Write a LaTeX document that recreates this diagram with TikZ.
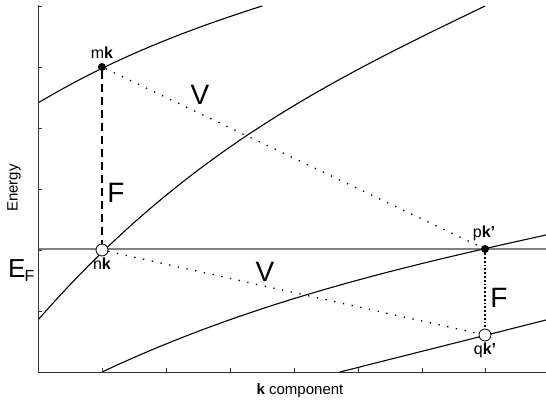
\documentclass[tikz,border=0pt]{standalone}
\usepackage{fontspec}
\setmainfont{Liberation Sans}
\begin{document}
\begin{tikzpicture}[x=1pt,y=-1pt,
  band/.style={line width=1.1pt,black},
  axisline/.style={line width=1pt,black!80},
  fermi/.style={line width=1.1pt,black!50},
  full/.style={circle,fill=black,inner sep=0pt,minimum size=8pt},
  empty/.style={circle,draw=black,fill=white,line width=0.8pt,inner sep=0pt,minimum size=12pt},
  vdots/.style={line width=1.3pt,dash pattern=on 1.3pt off 7.6pt},
  fdots/.style={line width=1.1pt,dash pattern=on 1.8pt off 2pt},
  fdash/.style={line width=1.6pt,dash pattern=on 8pt off 5pt},
  small/.style={font=\fontsize{16}{18}\selectfont,inner sep=1pt},
  big/.style={font=\fontsize{28}{30}\selectfont,inner sep=0pt}]
\useasboundingbox (0,0) rectangle (546,407);
% fermi level
\draw[fermi] (38,249) -- (546,249);
% bands
\begin{scope}
\clip (38,5) rectangle (546,372);
\draw[band] (38,103) .. controls (112.7,58.2) and (187.3,29.9) .. (262,6);
\draw[band] (38,320) .. controls (187,149) and (336,78) .. (485,6);
\draw[band] (102,372) .. controls (250,302.4) and (398,267.6) .. (546,235);
\draw[band] (340,372) .. controls (409,354.5) and (477,337.5) .. (546,320);
\end{scope}
% axes
\draw[axisline] (38,5) -- (38,372) -- (546,372);
\foreach \y in {6,67,128,189,250,311} \draw[axisline] (38,\y) -- (42,\y);
\foreach \x in {102,166,230,294,358,422,485} \draw[axisline] (\x,372) -- (\x,368);
% states
\node[full] (mk) at (102,67) {};
\node[empty] (nk) at (102,250) {};
\node[full] (pk) at (485,249) {};
\node[empty] (qk) at (485,335) {};
% transitions
\draw[fdash] (mk) -- (nk);
\draw[fdots] (pk) -- (qk);
\draw[vdots] (mk) -- (pk);
\draw[vdots] (nk) -- (qk);
% labels
\node[small,anchor=south] (lmk) at (102,60) {m\textbf{k}};
\node[small,anchor=north] (lnk) at (102,257) {n\textbf{k}};
\node[small,anchor=south] (lpk) at (484,242) {p\textbf{k'}};
\node[small,anchor=north] (lqk) at (485,342) {q\textbf{k'}};
\node[big] (v1) at (200,95) {V};
\node[big] (v2) at (265,272) {V};
\node[big] (f1) at (116,193) {F};
\node[big] (f2) at (499,298) {F};
\node[font=\fontsize{26}{28}\selectfont,inner sep=0pt,anchor=base west] (ef) at (8,277) {E\kern-1pt\raisebox{-0.35ex}{\fontsize{16}{18}\selectfont F}};
\node[font=\fontsize{15}{17}\selectfont,rotate=90] (ylab) at (14,188) {Energy};
\node[font=\fontsize{15}{17}\selectfont] (xlab) at (300,391) {\textbf{k} component};
\end{tikzpicture}
\end{document}
